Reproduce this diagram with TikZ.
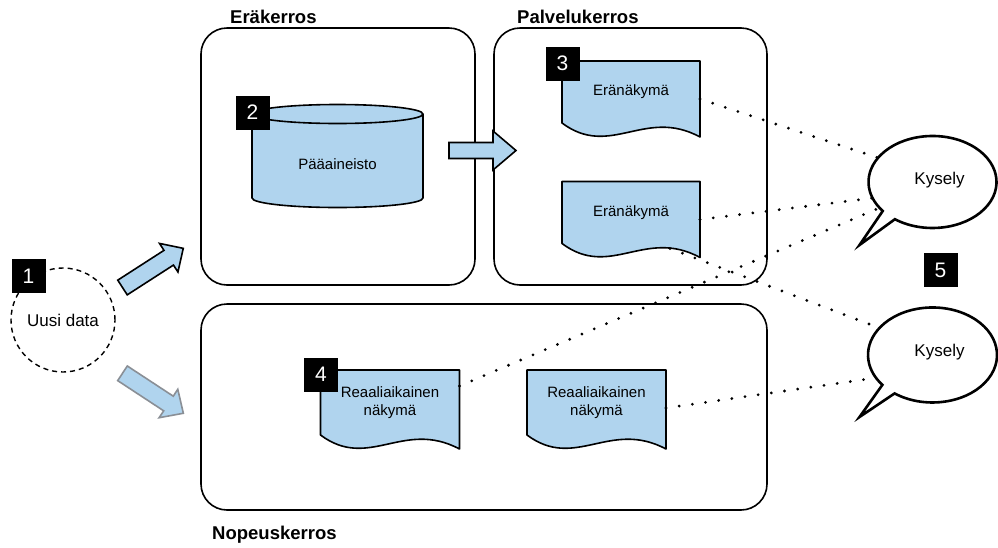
\documentclass[tikz,border=0pt]{standalone}
\usepackage{fontspec}
\setmainfont{Liberation Sans}
\usetikzlibrary{shapes.geometric}
\definecolor{viewblue}{RGB}{176,212,238}
\definecolor{arrowgray}{RGB}{138,143,150}
\newcommand{\docpath}[1]{%
  \draw[docfill] (#1.north west) -- (#1.north east) -- ([yshift=-14pt]#1.south east)
    .. controls ([xshift=82.8pt,yshift=16pt]#1.south west) and ([xshift=48.3pt,yshift=-36pt]#1.south west) .. (#1.south west) -- cycle;}
\begin{document}
\begin{tikzpicture}[x=1pt,y=-1pt,
  layer/.style={draw=black, line width=1.6pt, rounded corners=26pt, inner sep=0, outer sep=0},
  heading/.style={font=\fontsize{18.5}{20}\selectfont\bfseries, anchor=base west, inner sep=0},
  docfill/.style={draw=black, line width=1.6pt, fill=viewblue, line join=round},
  docbox/.style={minimum height=62pt, inner sep=0, outer sep=0},
  doctext/.style={font=\fontsize{15}{18}\selectfont, align=center, inner sep=0},
  numbox/.style={fill=black, minimum size=34pt, inner sep=0, text=white, font=\fontsize{21}{21}\selectfont},
  dotline/.style={line width=3.1pt, line cap=round, dash pattern=on 0pt off 13.3pt},
  bubble/.style={draw=black, line width=2.6pt, fill=white, line join=miter},
  bubblenode/.style={ellipse, inner sep=0, outer sep=0},
  fatarrow/.style={draw=black, line width=1.6pt, fill=viewblue, line join=miter},
]
\useasboundingbox (0,0) rectangle (998,547);
\fill[white] (0,0) rectangle (998,547);

% layers
\node[layer, minimum width=274pt, minimum height=257pt] (batch) at (338,156.5) {};
\node[layer, minimum width=273pt, minimum height=257pt] (serving) at (630.5,156.5) {};
\node[layer, minimum width=566pt, minimum height=206pt] (speed) at (484,407) {};
\node[heading] (hbatch) at (230,23.5) {Eräkerros};
\node[heading] (hserving) at (517,23.5) {Palvelukerros};
\node[heading] (hspeed) at (212,539.5) {Nopeuskerros};

% master dataset cylinder
\draw[docfill] (252,114) -- (252,198) arc[start angle=180, end angle=360, x radius=85.5pt, y radius=9.5pt]
  -- (423,114) arc[start angle=0, end angle=180, x radius=85.5pt, y radius=9.5pt] -- cycle;
\draw[line width=1.6pt] (252,114) arc[start angle=180, end angle=360, x radius=85.5pt, y radius=9.5pt];
\node[doctext] (db) at (337.5,164) {Pääaineisto};

% documents
\node[docbox, minimum width=138pt] (d1) at (631,92) {};
\node[docbox, minimum width=138pt] (d2) at (631,212.5) {};
\node[docbox, minimum width=139pt, minimum height=65pt] (r1) at (390,402.5) {};
\node[docbox, minimum width=139pt, minimum height=65pt] (r2) at (596.5,402.5) {};
\docpath{d1}
\docpath{d2}
\docpath{r1}
\docpath{r2}
\node[doctext] (d1t) at (d1.center) {Eränäkymä};
\node[doctext] (d2t) at (d2.center) {Eränäkymä};
\node[doctext] (r1t) at (r1.center) {Reaaliaikainen\\näkymä};
\node[doctext] (r2t) at (r2.center) {Reaaliaikainen\\näkymä};

% query bubbles (nodes for connectors)
\node[bubblenode, minimum width=128pt, minimum height=92pt] (k1) at (932.5,182) {};
\node[bubblenode, minimum width=129pt, minimum height=95pt] (k2) at (932.5,355) {};

% dotted connectors
\draw[dotline] ([yshift=-7pt]d1.east) -- (k1.156);
\draw[dotline] ([yshift=-7pt]d2.east) -- (k1.195);
\draw[dotline] ([xshift=-30pt,yshift=-5pt]d2.south east) -- (k2.153);
\draw[dotline] ([yshift=16.5pt]r1.east) -- (k1.206);
\draw[dotline] ([yshift=-5.5pt]r2.east) -- (k2.202);

% bubble outlines
\draw[bubble] ([xshift=-37.6pt,yshift=-37.2pt]k1.center) arc[start angle=234, end angle=579, x radius=64pt, y radius=46pt]
  -- ([xshift=-73pt,yshift=-63pt]k1.center) -- cycle;
\draw[bubble] ([xshift=-37.9pt,yshift=-38.4pt]k2.center) arc[start angle=234, end angle=579, x radius=64.5pt, y radius=47.5pt]
  -- ([xshift=-73pt,yshift=-62pt]k2.center) -- cycle;
\node[font=\fontsize{17}{20}\selectfont, inner sep=0] (k1t) at ([xshift=7pt,yshift=2pt]k1.center) {Kysely};
\node[font=\fontsize{17}{20}\selectfont, inner sep=0] (k2t) at ([xshift=7pt,yshift=3pt]k2.center) {Kysely};

% new data
\node[draw, circle, line width=1.4pt, dash pattern=on 5pt off 4pt, minimum size=104pt, inner sep=0,
  font=\fontsize{17}{20}\selectfont] (new) at (63,320) {Uusi data};

% fat arrows
\begin{scope}[shift={(122.5,287.5)}, rotate=32.8]
  \draw[fatarrow] (0,-8.75) -- (55,-8.75) -- (55,-17) -- (72.3,0) -- (55,17) -- (55,8.75) -- (0,8.75) -- cycle;
\end{scope}
\begin{scope}[shift={(122.5,373.3)}, rotate=-33.3]
  \draw[fatarrow, draw=arrowgray] (0,-8.75) -- (55,-8.75) -- (55,-17) -- (72.8,0) -- (55,17) -- (55,8.75) -- (0,8.75) -- cycle;
\end{scope}
\begin{scope}[shift={(449,150.5)}]
  \draw[fatarrow] (0,-8) -- (44,-8) -- (44,-19.5) -- (67,0) -- (44,19.5) -- (44,8) -- (0,8) -- cycle;
\end{scope}

% number badges
\node[numbox] (n1) at (28.5,276) {1};
\node[numbox] (n2) at (252.5,112.5) {2};
\node[numbox] (n3) at (562.5,63.5) {3};
\node[numbox] (n4) at (321,374.5) {4};
\node[numbox] (n5) at (940.5,270) {5};
\end{tikzpicture}
\end{document}
